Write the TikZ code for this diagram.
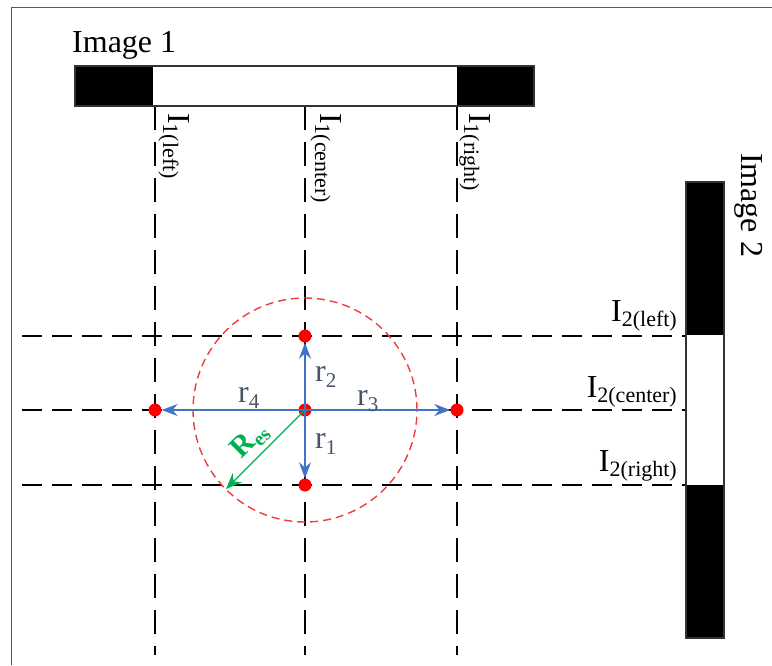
\documentclass[tikz,border=0pt]{standalone}
\usepackage{fontspec}
\setmainfont{Liberation Serif}
\usetikzlibrary{arrows.meta}
\definecolor{arrblue}{RGB}{68,114,196}
\definecolor{labblue}{RGB}{68,84,106}
\definecolor{resgreen}{RGB}{0,176,80}
\definecolor{framegray}{RGB}{90,90,90}
\definecolor{circred}{RGB}{240,60,60}
\newcommand{\Isub}[1]{I\raisebox{-5pt}{\fontsize{22}{22}\selectfont #1}}
\newcommand{\rsub}[1]{r\raisebox{-6pt}{\fontsize{21}{21}\selectfont #1}}
\begin{document}
\begin{tikzpicture}[x=1pt,y=-1pt,
  vdash/.style={draw=black, line width=1.4pt, dash pattern=on 24pt off 12pt},
  hdash/.style={draw=black, line width=1.4pt, dash pattern=on 20pt off 10pt},
  bigtext/.style={font=\fontsize{32}{32}\selectfont, inner sep=0pt},
  dot/.style={circle, fill=red, minimum size=13pt, inner sep=0pt},
  rarrow/.style={draw=arrblue, line width=1.6pt, -{Stealth[length=16pt,width=12pt]}},
  resarrow/.style={draw=resgreen, line width=1.3pt, -{Stealth[length=16pt,width=13pt]}},
  rlabel/.style={font=\fontsize{32}{32}\selectfont, text=labblue, inner sep=0pt, anchor=base west},
  barline/.style={draw=black!80, line width=1.2pt}]
\useasboundingbox (0,0) rectangle (772,665);
% frame
\draw[framegray, line width=1pt] (11,665) -- (11,7) -- (772,7);
% dashed grid
\coordinate (v1t) at (155,106); \coordinate (v1b) at (155,655);
\coordinate (v2t) at (305,106); \coordinate (v2b) at (305,655);
\coordinate (v3t) at (457,106); \coordinate (v3b) at (457,655);
\coordinate (h1l) at (22,336); \coordinate (h1r) at (686,336);
\coordinate (h2l) at (22,410); \coordinate (h2r) at (686,410);
\coordinate (h3l) at (22,485); \coordinate (h3r) at (686,485);
\draw[vdash] (v1t) -- (v1b);
\draw[vdash] (v2t) -- (v2b);
\draw[vdash] (v3t) -- (v3b);
\draw[hdash] (h1l) -- (h1r);
\draw[hdash] (h2l) -- (h2r);
\draw[hdash] (h3l) -- (h3r);
% image 1 bar
\fill[white] (75,66) rectangle (534,106);
\fill[black] (75,66) rectangle (153,106);
\fill[black] (457,66) rectangle (534,106);
\draw[barline] (75,66) rectangle (534,106);
% image 2 bar
\fill[white] (686,182) rectangle (724,638);
\fill[black] (686,182) rectangle (724,335);
\fill[black] (686,485) rectangle (724,638);
\draw[barline] (686,182) rectangle (724,638);
% circle
\draw[circred, line width=1.4pt, dash pattern=on 8pt off 5pt] (305,410) circle[radius=112pt];
% dots
\node[dot] (c) at (305,410) {};
\node[dot] (top) at (305,336) {};
\node[dot] (bot) at (305,485) {};
\node[dot] (lft) at (155,410) {};
\node[dot] (rgt) at (457,410) {};
% arrows
\draw[rarrow] (c.center) -- (top);
\draw[rarrow] (c.center) -- (bot);
\draw[rarrow] (c.center) -- (lft);
\draw[rarrow] (c.center) -- (rgt);
\coordinate (resend) at (226,489);
\draw[resarrow] (c.center) -- (resend);
% labels
\node[rlabel] (r1) at (315,448) {\rsub{1}};
\node[rlabel] (r2) at (315,381) {\rsub{2}};
\node[rlabel] (r3) at (357,405) {\rsub{3}};
\node[rlabel] (r4) at (238,402) {\rsub{4}};
\node[rotate=45, text=resgreen, inner sep=0pt, font=\fontsize{30}{30}\selectfont\bfseries] (res) at (250,441) {R\raisebox{-5pt}{\fontsize{20}{20}\selectfont\bfseries es}};
\node[bigtext, anchor=base west] (im1) at (72,52) {Image 1};
\node[bigtext, rotate=-90, anchor=base west] (im2) at (741,153) {Image 2};
\node[bigtext, rotate=-90, anchor=base west] (l1) at (168,113) {\Isub{1(left)}};
\node[bigtext, rotate=-90, anchor=base west] (l2) at (320,113) {\Isub{1(center)}};
\node[bigtext, rotate=-90, anchor=base west] (l3) at (469,113) {\Isub{1(right)}};
\node[bigtext, anchor=base east] (m1) at (677,321) {\Isub{2(left)}};
\node[bigtext, anchor=base east] (m2) at (677,397) {\Isub{2(center)}};
\node[bigtext, anchor=base east] (m3) at (677,471) {\Isub{2(right)}};
\end{tikzpicture}
\end{document}
